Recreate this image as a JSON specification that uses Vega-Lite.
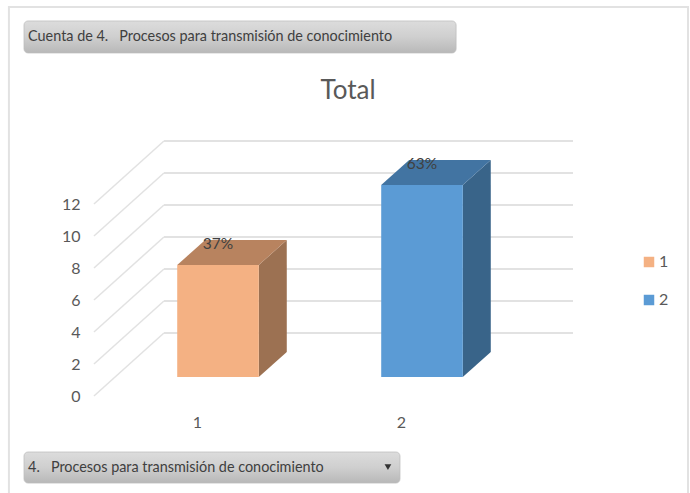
{
"$schema":"https://vega.github.io/schema/vega-lite/v6.json",
"width":408,"height":192,
"autosize":"none",
"padding":{"left":95,"top":204,"right":187,"bottom":97},
"background":"white",
"title":{"text":"Total","anchor":"middle","dx":49,"offset":-98,"fontSize":26,"fontWeight":"normal","font":"Lato","color":"#595959"},
"config":{"view":{"stroke":null},"axis":{"labelFont":"Lato","labelFontSize":16,"labelColor":"#595959","domain":false,"ticks":false,"grid":false,"title":null},"legend":{"labelFont":"Lato"}},
"datasets":{
"bars":[{"category":"1","pos":1,"value":7,"pct":"37%"},{"category":"2","pos":2,"value":12,"pct":"63%"}],
"ticks":[{"tick":0},{"tick":2},{"tick":4},{"tick":6},{"tick":8},{"tick":10},{"tick":12}],
"buttons":[{"label":"Cuenta de 4.\u00a0\u00a0\u00a0Procesos para transmisión de conocimiento","left":0.152,"right":2.27,"top":23.44,"bottom":21.44,"textx":0.172,"texty":22.44},{"label":"4.\u00a0\u00a0\u00a0Procesos para transmisión de conocimiento","left":0.152,"right":1.995,"top":-3.5,"bottom":-5.44,"textx":0.172,"texty":-4.5}],
"single":[{"item":"annotation"}]
},
"resolve":{"scale":{"color":"independent"}},
"layer":[
{"data":{"name":"single"},"mark":{"type":"rect","fill":"transparent","stroke":"#e2e2e2","strokeWidth":2},
 "encoding":{"x":{"datum":0.078,"type":"quantitative","scale":{"domain":[0.5,2.5],"zero":false,"nice":false},"axis":{"values":[1,2],"format":"d","labelPadding":18,"labelOverlap":false}},"x2":{"datum":3.407},"y":{"datum":24.31,"type":"quantitative","scale":{"domain":[0,12],"zero":false,"nice":false},"axis":{"values":[0,2,4,6,8,10,12],"tickCount":7,"labelPadding":15,"labelOverlap":false,"labelSeparation":0}},"y2":{"datum":-12}}},
{"data":{"name":"ticks"},"transform":[{"calculate":"datum.tick+3.9375","as":"backY"}],
 "mark":{"type":"rule","stroke":"#e2e2e2","strokeWidth":1.5},
 "encoding":{"x":{"datum":0.495,"type":"quantitative","scale":{"domain":[0.5,2.5],"zero":false,"nice":false}},"x2":{"datum":0.838},"y":{"field":"tick","type":"quantitative","scale":{"domain":[0,12],"zero":false,"nice":false}},"y2":{"field":"backY"}}},
{"data":{"name":"ticks"},"transform":[{"calculate":"datum.tick+3.9375","as":"backY"}],
 "mark":{"type":"rule","stroke":"#e2e2e2","strokeWidth":2},
 "encoding":{"x":{"datum":0.838,"type":"quantitative","scale":{"domain":[0.5,2.5],"zero":false,"nice":false}},"x2":{"datum":2.843},"y":{"field":"backY","type":"quantitative","scale":{"domain":[0,12],"zero":false,"nice":false}}}},
{"data":{"name":"bars"},"transform":[{"calculate":"[0.3,0.7]","as":"f"},{"flatten":["f"]},{"calculate":"datum.pos+0.2+0.343*datum.f","as":"sx"},{"calculate":"datum.value+3.9375*datum.f","as":"ty"},{"calculate":"3.9375*datum.f","as":"by"}],
 "mark":{"type":"area","orient":"vertical"},
 "encoding":{"x":{"field":"sx","type":"quantitative","stack":null,"scale":{"domain":[0.5,2.5],"zero":false,"nice":false}},"y":{"field":"ty","type":"quantitative","stack":null,"scale":{"domain":[0,12],"zero":false,"nice":false}},"y2":{"field":"by"},"color":{"field":"category","type":"nominal","legend":null,"scale":{"domain":["1","2"],"range":["#9C7152","#396489"]}}}},
{"data":{"name":"bars"},"transform":[{"calculate":"[0.3,0.7]","as":"f"},{"flatten":["f"]},{"calculate":"datum.pos-0.2+0.343*datum.f","as":"lx"},{"calculate":"datum.pos+0.2+0.343*datum.f","as":"rx"},{"calculate":"datum.value+3.9375*datum.f","as":"ty"}],
 "mark":{"type":"area","orient":"horizontal"},
 "encoding":{"y":{"field":"ty","type":"quantitative","stack":null,"scale":{"domain":[0,12],"zero":false,"nice":false}},"x":{"field":"lx","type":"quantitative","stack":null,"scale":{"domain":[0.5,2.5],"zero":false,"nice":false}},"x2":{"field":"rx"},"color":{"field":"category","type":"nominal","legend":null,"scale":{"domain":["1","2"],"range":["#B8835F","#4274A2"]}}}},
{"data":{"name":"bars"},"transform":[{"calculate":"datum.pos-0.2+0.103","as":"lx"},{"calculate":"datum.pos+0.2+0.103","as":"rx"},{"calculate":"datum.value+1.18","as":"ty"},{"calculate":"1.18","as":"by"}],
 "mark":{"type":"rect"},
 "encoding":{"x":{"field":"lx","type":"quantitative","scale":{"domain":[0.5,2.5],"zero":false,"nice":false}},"x2":{"field":"rx"},"y":{"field":"ty","type":"quantitative","scale":{"domain":[0,12],"zero":false,"nice":false}},"y2":{"field":"by"},"color":{"field":"category","type":"nominal","scale":{"domain":["1","2"],"range":["#F4B183","#5B9BD5"]},"legend":{"title":null,"orient":"none","legendX":546,"legendY":50,"symbolType":"square","symbolSize":110,"labelFontSize":16,"labelColor":"#595959","rowPadding":22,"labelOffset":2}}}},
{"data":{"name":"bars"},"transform":[{"calculate":"datum.pos+0.103","as":"tx"},{"calculate":"datum.value+2.5","as":"ty"}],
 "mark":{"type":"text","font":"Lato","fontSize":15.5,"color":"#404040","align":"center","baseline":"middle"},
 "encoding":{"x":{"field":"tx","type":"quantitative","scale":{"domain":[0.5,2.5],"zero":false,"nice":false}},"y":{"field":"ty","type":"quantitative","scale":{"domain":[0,12],"zero":false,"nice":false}},"text":{"field":"pct"}}},
{"data":{"name":"buttons"},
 "mark":{"type":"rect","cornerRadius":4,"stroke":"#bcbcbc","strokeWidth":0.75,"color":{"gradient":"linear","x1":0,"y1":0,"x2":0,"y2":1,"stops":[{"offset":0,"color":"#dcdcdc"},{"offset":0.5,"color":"#cfcfcf"},{"offset":1,"color":"#b8b8b8"}]}},
 "encoding":{"x":{"field":"left","type":"quantitative","scale":{"domain":[0.5,2.5],"zero":false,"nice":false}},"x2":{"field":"right"},"y":{"field":"top","type":"quantitative","scale":{"domain":[0,12],"zero":false,"nice":false}},"y2":{"field":"bottom"}}},
{"data":{"name":"buttons"},
 "mark":{"type":"text","font":"Lato","fontSize":14.4,"color":"#404040","align":"left","baseline":"middle"},
 "encoding":{"x":{"field":"textx","type":"quantitative","scale":{"domain":[0.5,2.5],"zero":false,"nice":false}},"y":{"field":"texty","type":"quantitative","scale":{"domain":[0,12],"zero":false,"nice":false}},"text":{"field":"label"}}},
{"data":{"name":"single"},"mark":{"type":"point","shape":"triangle-down","filled":true,"color":"#333333","size":45,"opacity":1},
 "encoding":{"x":{"datum":1.936,"type":"quantitative","scale":{"domain":[0.5,2.5],"zero":false,"nice":false}},"y":{"datum":-4.44,"type":"quantitative","scale":{"domain":[0,12],"zero":false,"nice":false}}}}
]
}
